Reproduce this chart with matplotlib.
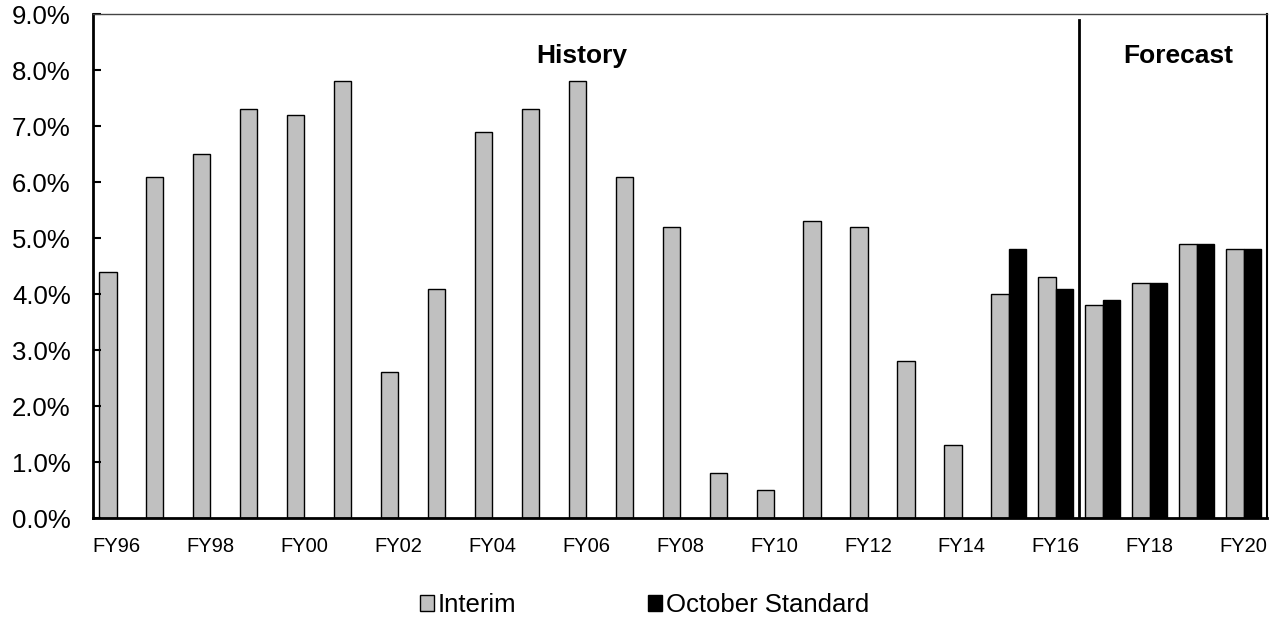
import numpy as np
import matplotlib
matplotlib.use("Agg")
import matplotlib.pyplot as plt

plt.rcParams['font.family'] = ['Liberation Sans', 'DejaVu Sans']

# data (percent)
years = ['FY96', 'FY97', 'FY98', 'FY99', 'FY00', 'FY01', 'FY02', 'FY03', 'FY04',
         'FY05', 'FY06', 'FY07', 'FY08', 'FY09', 'FY10', 'FY11', 'FY12', 'FY13',
         'FY14', 'FY15', 'FY16', 'FY17', 'FY18', 'FY19', 'FY20']
interim = [4.4, 6.1, 6.5, 7.3, 7.2, 7.8, 2.6, 4.1, 6.9, 7.3, 7.8, 6.1, 5.2,
           0.8, 0.5, 5.3, 5.2, 2.8, 1.3, 4.0, 4.3, 3.8, 4.2, 4.9, 4.8]
october = [np.nan] * 19 + [4.8, 4.1, 3.9, 4.2, 4.9, 4.8]

fig = plt.figure(figsize=(12.8, 6.2), dpi=100)
ax = fig.add_axes([0.0727, 0.1645, 0.9172, 0.8125])

x = np.arange(len(years))
w = 0.372
ax.bar(x - w / 2, interim, w, color='#c0c0c0', edgecolor='black', linewidth=1.0, label='Interim')
ax.bar(x + w / 2, october, w, color='black', edgecolor='black', linewidth=1.0, label='October Standard')

# history / forecast divider
ax.plot([20.5, 20.5], [0, 8.9], color='black', linewidth=2)
ax.text(9.9, 8.25, 'History', fontsize=19, fontweight='bold', ha='center', va='center')
ax.text(22.6, 8.25, 'Forecast', fontsize=19, fontweight='bold', ha='center', va='center')

ax.set_xlim(-0.5, len(years) - 0.5)
ax.set_ylim(0, 9)
ax.set_yticks(np.arange(0, 9.1, 1))
ax.set_yticklabels([f'{v:.1f}%' for v in np.arange(0, 9.1, 1)], fontsize=18.5)
ax.set_xticks(x[::2])
ax.set_xticklabels(years[::2], fontsize=14.5)
ax.tick_params(axis='y', direction='in', length=6, width=1.5, pad=16)
ax.tick_params(axis='x', length=0, pad=14)

ax.spines['left'].set_linewidth(2)
ax.spines['bottom'].set_linewidth(2)
ax.spines['right'].set_linewidth(1.5)
ax.spines['top'].set_linewidth(1)
ax.spines['top'].set_color('#444444')

fig.legend(loc='center', bbox_to_anchor=(0.5035, 0.024), ncol=2, frameon=False,
           fontsize=18.5, handlelength=0.55, handleheight=0.55, handletextpad=0.15,
           columnspacing=5.1, borderpad=0)

plt.savefig('out.png', dpi=100)
